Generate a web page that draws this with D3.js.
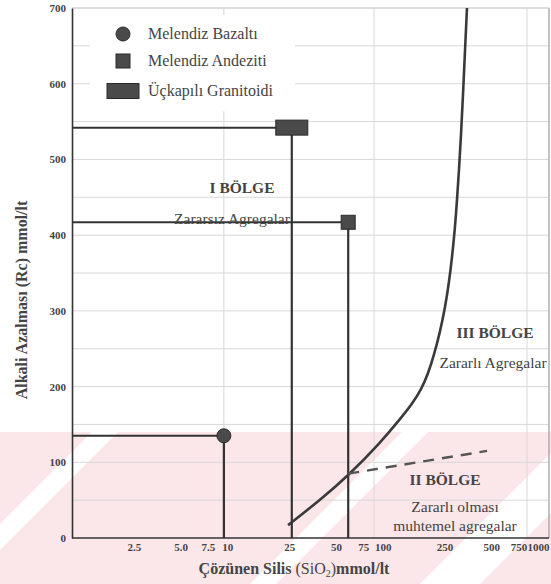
<!DOCTYPE html>
<html>
<head>
<meta charset="utf-8">
<script src="https://cdn.jsdelivr.net/npm/d3@7"></script>
<style>
  html, body { margin: 0; padding: 0; background: #fff; }
  svg { display: block; }
  svg text { font-family: "Liberation Serif", "DejaVu Serif", serif; }
</style>
</head>
<body>
<svg id="chart" width="551" height="584"></svg>
<script>
// ---------- DATA ----------
const xTickValues = [2.5, 5, 7.5, 10, 25, 50, 75, 100, 250, 500, 750, 1000];
const xTickLabels = ["2.5", "5.0", "7.5", "10", "25", "50", "75", "100", "250", "500", "750", "1000"];
const yTickValues = [0, 100, 200, 300, 400, 500, 600, 700];
const yGridValues = [50, 100, 150, 200, 250, 300, 350, 400, 450, 500, 550, 600, 650, 700];
const xGridValues = [9.5, 88, 850];

const sampleNames = ["Melendiz Bazaltı", "Melendiz Andeziti", "Üçkapılı Granitoidi"];
const sampleShapes = ["circle", "square", "rect"];
const sampleSiO2 = [9.5, 60, 26];
const sampleRc = [135, 417, 542];

// boundary curve (solid) between zones
const curveSiO2 = [24.6, 39.5, 59.8, 96, 133, 154.5, 176.6, 195.8, 214, 234, 252, 267, 279.5, 292, 301, 310, 319.5, 329, 339, 349];
const curveRc   = [17, 50, 82, 125, 160, 177, 195.5, 216.6, 241.7, 272, 303.8, 336.8, 369.8, 409.5, 446, 486, 532, 585, 644.6, 700];

// dashed boundary
const dashSiO2 = [60, 470];
const dashRc = [85, 115];

const zoneTitles = ["I BÖLGE", "III BÖLGE", "II BÖLGE"];
const zoneLines = [["Zararsız Agregalar"], ["Zararlı Agregalar"], ["Zararlı olması", "muhtemel agregalar"]];

// ---------- LAYOUT ----------
const svg = d3.select("#chart");
const L = 72, R = 549, T = 8, B = 538;

const x = d3.scaleLog().domain([1, 1000]).range([L, 538]);
const y = d3.scaleLinear().domain([0, 700]).range([B, T]);

// watermark-like pink band (from the scanned source)
const wm = svg.append("g");
wm.append("rect").attr("x", 0).attr("y", 432).attr("width", 551).attr("height", 152).attr("fill", "#fbe7ea");
const defs = svg.append("defs");
defs.append("clipPath").attr("id", "band").append("rect").attr("x", 0).attr("y", 432).attr("width", 551).attr("height", 152);
const stripes = wm.append("g").attr("clip-path", "url(#band)");
[[-60, 26], [250, 26], [420, 60]].forEach(([sx, w]) => {
  stripes.append("path")
    .attr("d", `M${sx},584 L${sx + 152},432 L${sx + 152 + w},432 L${sx + w},584 Z`)
    .attr("fill", "#ffffff");
});

// grid
const grid = svg.append("g");
grid.selectAll("line.h").data(yGridValues).join("line")
  .attr("x1", L).attr("x2", R).attr("y1", d => y(d)).attr("y2", d => y(d))
  .attr("stroke", "#d8d8d8").attr("stroke-width", 1);
grid.selectAll("line.v").data(xGridValues).join("line")
  .attr("x1", d => x(d)).attr("x2", d => x(d)).attr("y1", T).attr("y2", B)
  .attr("stroke", "#d8d8d8").attr("stroke-width", 1);

// frame
svg.append("line").attr("x1", R).attr("x2", R).attr("y1", T).attr("y2", B).attr("stroke", "#9a9a9a").attr("stroke-width", 1.2);
svg.append("line").attr("x1", L).attr("x2", R).attr("y1", T).attr("y2", T).attr("stroke", "#d0d0d0").attr("stroke-width", 1);

// legend background (covers grid)
svg.append("rect").attr("x", 90).attr("y", 15).attr("width", 205).attr("height", 96).attr("fill", "#fff");

// y axis
const yAxis = d3.axisLeft(y).tickValues(yTickValues).tickSize(0).tickPadding(6).tickFormat(d3.format("d"));
const gy = svg.append("g").attr("transform", `translate(${L},0)`).call(yAxis);
gy.select(".domain").attr("stroke", "#333").attr("stroke-width", 1.6);
gy.selectAll("text").attr("font-weight", "bold").attr("font-size", 11).attr("fill", "#444");

// x axis
const xAxis = d3.axisBottom(x).tickValues(xTickValues).tickSize(0).tickPadding(5)
  .tickFormat((d, i) => xTickLabels[i]);
const gx = svg.append("g").attr("transform", `translate(0,${B})`).call(xAxis);
gx.select(".domain").attr("d", `M${L},0H${R}`).attr("stroke", "#333").attr("stroke-width", 1.6);
gx.selectAll("text").attr("font-weight", "bold").attr("font-size", 11).attr("fill", "#444");
gy.attr("font-family", null); gx.attr("font-family", null);

// axis titles
svg.append("text")
  .attr("transform", `translate(27,300) rotate(-90)`)
  .attr("text-anchor", "middle")
  .attr("font-weight", "bold").attr("font-size", 16).attr("fill", "#444")
  .text("Alkali Azalması (Rc) mmol/lt");

const xt = svg.append("text")
  .attr("x", 294).attr("y", 574)
  .attr("text-anchor", "middle")
  .attr("font-size", 16).attr("fill", "#444");
xt.append("tspan").attr("font-weight", "bold").text("Çözünen Silis  ");
xt.append("tspan").text("(SiO");
xt.append("tspan").attr("font-size", 10).attr("dy", 3).text("2");
xt.append("tspan").attr("dy", -3).text(")");
xt.append("tspan").attr("font-weight", "bold").text("mmol/lt");

// guide lines from samples
const lineColor = "#333";
const guides = svg.append("g");
sampleNames.forEach((n, i) => {
  guides.append("line")
    .attr("x1", L + 1).attr("x2", x(sampleSiO2[i])).attr("y1", y(sampleRc[i])).attr("y2", y(sampleRc[i]))
    .attr("stroke", lineColor).attr("stroke-width", 2);
  guides.append("line")
    .attr("x1", x(sampleSiO2[i])).attr("x2", x(sampleSiO2[i])).attr("y1", y(sampleRc[i])).attr("y2", B)
    .attr("stroke", lineColor).attr("stroke-width", 2.2);
});

// boundary curve
const curvePts = curveSiO2.map((v, i) => [x(v), y(curveRc[i])]);
svg.append("path")
  .attr("d", d3.line().curve(d3.curveBasis)(curvePts))
  .attr("fill", "none").attr("stroke", "#3a3a3a").attr("stroke-width", 2.6);

// dashed boundary
svg.append("path")
  .attr("d", d3.line()(dashSiO2.map((v, i) => [x(v), y(dashRc[i])])))
  .attr("fill", "none").attr("stroke", "#555").attr("stroke-width", 2.4).attr("stroke-dasharray", "11,8");

// markers
function drawMarker(g, shape, cx, cy) {
  const fill = "#4a4a4a", stroke = "#2a2a2a";
  if (shape === "circle") {
    g.append("circle").attr("cx", cx).attr("cy", cy).attr("r", 7).attr("fill", fill).attr("stroke", stroke).attr("stroke-width", 1);
  } else if (shape === "square") {
    g.append("rect").attr("x", cx - 7).attr("y", cy - 7).attr("width", 14).attr("height", 14).attr("fill", fill).attr("stroke", stroke).attr("stroke-width", 1);
  } else {
    g.append("rect").attr("x", cx - 16).attr("y", cy - 7.5).attr("width", 32).attr("height", 15).attr("fill", fill).attr("stroke", stroke).attr("stroke-width", 1);
  }
}
const marks = svg.append("g");
sampleNames.forEach((n, i) => drawMarker(marks, sampleShapes[i], x(sampleSiO2[i]), y(sampleRc[i])));

// legend
const leg = svg.append("g");
sampleNames.forEach((n, i) => {
  const cy = [34, 61, 91][i];
  drawMarker(leg, sampleShapes[i], 123, cy);
  leg.append("text").attr("x", 148).attr("y", cy + 5)
    .attr("font-size", 16).attr("fill", "#444").text(n);
});

// zone labels
const zonePos = [[242, 193, 232, 224], [495, 338, 493, 368], [445, 485, 455, 512]];
zoneTitles.forEach((title, i) => {
  const [tx, ty, lx, ly] = zonePos[i];
  svg.append("text").attr("x", tx).attr("y", ty).attr("text-anchor", "middle")
    .attr("font-weight", "bold").attr("font-size", 15.5).attr("fill", "#444").text(title);
  zoneLines[i].forEach((t, j) => {
    svg.append("text").attr("x", lx).attr("y", ly + j * 19).attr("text-anchor", "middle")
      .attr("font-size", 15.5).attr("fill", "#444").text(t);
  });
});
</script>
</body>
</html>
